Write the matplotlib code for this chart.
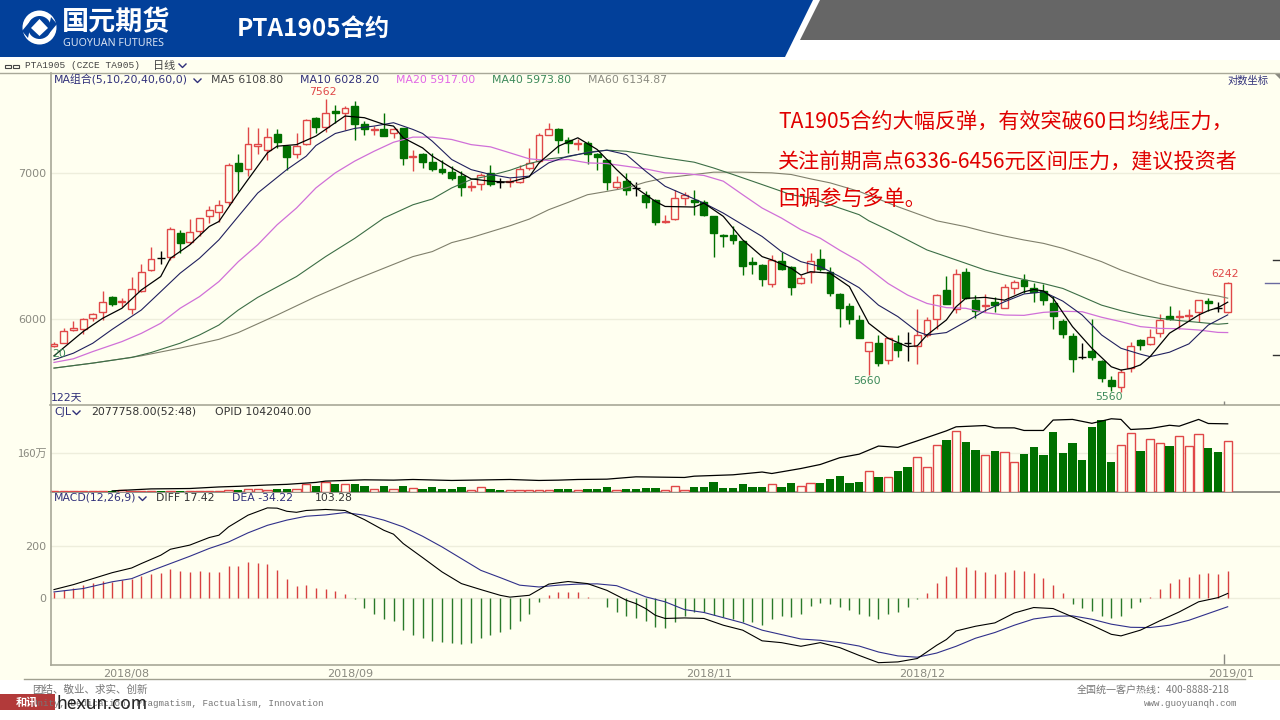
import matplotlib
matplotlib.use("Agg")
import matplotlib.pyplot as plt
from matplotlib.patches import Polygon, Rectangle, Circle

plt.rcParams["font.family"] = ["DejaVu Sans", "Noto Sans CJK SC"]

# daily candles, index 0 is the first of the 122 days
opens = [
    5834, 5855, 5933, 5937, 6006, 6044, 6145, 6108, 6064, 6184,
    6318, 6402, 6405, 6570, 6507, 6581, 6686, 6714, 6785, 7073,
    7028, 7203, 7173, 7290, 7203, 7138, 7218, 7417, 7344, 7467,
    7454, 7506, 7367, 7321, 7331, 7295, 7337, 7118, 7140, 7078,
    7028, 7006, 6975, 6899, 6918, 6999, 6933, 6931, 6931, 7035,
    7086, 7285, 7326, 7247, 7213, 7226, 7140, 7098, 6894, 6940,
    6889, 6840, 6802, 6650, 6667, 6814, 6804, 6790, 6686, 6558,
    6558, 6516, 6375, 6350, 6229, 6380, 6338, 6232, 6306, 6391,
    6304, 6160, 6085, 5996, 5802, 5855, 5747, 5851, 5851, 5835,
    5902, 6000, 6187, 6063, 6304, 6122, 6082, 6112, 6074, 6204,
    6252, 6200, 6180, 6106, 5992, 5896, 5769, 5802, 5743, 5628,
    5590, 5700, 5871, 5849, 5913, 6021, 6013, 6021, 6044, 6116,
    6072, 6044,
]
highs = [
    5861, 5948, 5990, 6006, 6038, 6181, 6149, 6134, 6271, 6360,
    6477, 6448, 6609, 6593, 6667, 6674, 6761, 6800, 7073, 7140,
    7347, 7334, 7339, 7331, 7210, 7295, 7409, 7425, 7562, 7517,
    7509, 7548, 7391, 7352, 7457, 7339, 7339, 7173, 7148, 7148,
    7098, 7048, 7011, 6938, 6999, 7060, 6962, 6962, 7060, 7185,
    7295, 7378, 7339, 7270, 7254, 7236, 7148, 7103, 6975, 6999,
    6931, 6864, 6809, 6698, 6871, 6857, 6871, 6800, 6691, 6562,
    6620, 6523, 6409, 6360, 6420, 6443, 6346, 6286, 6431, 6459,
    6338, 6167, 6106, 6027, 5861, 5902, 5892, 5902, 5923, 6063,
    6017, 6162, 6278, 6329, 6335, 6155, 6162, 6140, 6230, 6256,
    6295, 6234, 6230, 6149, 6000, 5917, 5851, 6002, 5749, 5654,
    5694, 5857, 5879, 5939, 6034, 6084, 6059, 6063, 6122, 6134,
    6112, 6242,
]
lows = [
    5827, 5851, 5929, 5909, 5992, 5996, 6087, 6081, 6034, 6177,
    6316, 6362, 6387, 6431, 6495, 6546, 6639, 6650, 6768, 6864,
    6975, 7140, 7098, 7185, 7023, 7110, 7210, 7295, 7306, 7378,
    7321, 7244, 7280, 7287, 7275, 7262, 7060, 7011, 7035, 7011,
    6987, 6950, 6832, 6864, 6876, 6901, 6889, 6894, 6926, 7023,
    7073, 7280, 7148, 7148, 7173, 7068, 7023, 6876, 6881, 6840,
    6830, 6745, 6627, 6639, 6662, 6768, 6698, 6686, 6405, 6473,
    6495, 6286, 6293, 6214, 6210, 6320, 6155, 6227, 6236, 6316,
    6152, 5954, 5971, 5881, 5660, 5715, 5723, 5764, 5745, 5723,
    5892, 5937, 6097, 6042, 6127, 6006, 6048, 6046, 6070, 6162,
    6169, 6112, 6090, 5939, 5881, 5678, 5753, 5749, 5616, 5566,
    5560, 5678, 5810, 5843, 5892, 5996, 5937, 5992, 5985, 6055,
    6048, 6038,
]
closes = [
    5847, 5927, 5943, 6002, 6032, 6112, 6098, 6119, 6192, 6306,
    6396, 6402, 6597, 6500, 6579, 6674, 6728, 6763, 7055, 7016,
    7213, 7216, 7267, 7228, 7120, 7198, 7401, 7347, 7457, 7457,
    7493, 7367, 7326, 7329, 7277, 7329, 7108, 7125, 7081, 7028,
    7006, 6960, 6896, 6906, 6980, 6921, 6933, 6938, 7028, 7073,
    7287, 7331, 7247, 7223, 7221, 7140, 7115, 6933, 6933, 6871,
    6889, 6785, 6648, 6657, 6816, 6838, 6790, 6693, 6567, 6549,
    6523, 6348, 6362, 6262, 6385, 6329, 6208, 6269, 6380, 6324,
    6167, 6070, 6000, 5881, 5857, 5733, 5884, 5812, 5851, 5902,
    5996, 6153, 6097, 6295, 6134, 6055, 6090, 6088, 6210, 6237,
    6215, 6178, 6125, 6021, 5910, 5753, 5769, 5767, 5643, 5594,
    5674, 5837, 5843, 5888, 5994, 6000, 6019, 6030, 6120, 6101,
    6072, 6232,
]

# moving averages, read at the listed day numbers
ma5_days = [0, 3, 5, 7, 9, 11, 12, 14, 16, 17, 19, 20, 22, 23, 25, 27, 28, 30, 32, 34, 35, 36, 38,
            39, 41, 43, 45, 47, 49, 50, 52, 54, 56, 58, 60, 62, 63, 66, 67, 69, 71, 73, 74, 76, 77, 78, 80, 82, 83,
            84, 86, 88, 89, 90, 92, 93, 94, 96, 98, 100, 101, 102, 103, 105, 107, 109, 110, 111, 112, 113, 114,
            115, 116, 118, 119, 120, 121]
ma5 = [5774, 5923, 6006, 6070, 6188, 6276, 6398, 6489, 6615, 6650, 6852, 6950, 7148, 7198, 7210, 7275, 7326, 7430,
       7417, 7365, 7352, 7262, 7185,
       7123, 7035, 6955, 6938, 6931, 6970, 7073, 7198, 7262, 7173, 7023, 6889, 6792, 6756, 6752, 6780, 6686, 6523,
       6409, 6387, 6331, 6286, 6308, 6298, 6210, 6091,
       5975, 5881, 5830, 5835, 5902, 5996, 6080, 6134, 6140, 6122, 6176, 6191, 6182, 6134, 5954, 5820, 5708, 5688,
       5698, 5719, 5769, 5841, 5913, 5950, 6027, 6055, 6074, 6109]
ma10_days = [0, 2, 4, 6, 9, 11, 13, 15, 17, 19, 21, 24, 26, 27, 29, 31, 33, 35, 37, 38,
             39, 41, 43, 45, 47, 49, 51, 53, 55, 57, 59, 61, 63, 65, 67, 69, 71, 73, 75, 77, 79, 81, 83,
             85, 87, 89, 90, 92, 94, 96, 98, 100, 102, 104, 106, 108, 110, 112, 113, 115, 117, 119, 121]
ma10 = [5750, 5790, 5851, 5937, 6059, 6177, 6298, 6398, 6523, 6686, 6852, 7023, 7123, 7203, 7295, 7334, 7352, 7378,
        7326, 7295,
        7236, 7098, 7023, 6987, 6962, 6975, 7073, 7123, 7148, 7168, 7135, 7011, 6901, 6840, 6780, 6709, 6627, 6546,
        6443, 6375, 6342, 6276, 6203,
        6090, 6017, 5923, 5902, 5917, 5985, 6055, 6112, 6162, 6176, 6116, 6027, 5902, 5820, 5784, 5769, 5796, 5847,
        5964, 6028]
ma20_days = [0, 2, 4, 7, 9, 11, 13, 15, 17, 19, 21, 23, 25, 27, 29, 31, 33, 35, 37, 39,
             41, 43, 45, 47, 49, 51, 53, 55, 57, 59, 61, 63, 65, 67, 69, 71, 73, 75, 77, 79, 81, 83,
             84, 86, 88, 90, 92, 94, 96, 98, 100, 102, 104, 106, 108, 110, 112, 114, 116, 118, 120, 121]
ma20 = [5734, 5756, 5800, 5861, 5912, 5975, 6070, 6145, 6243, 6375, 6489, 6627, 6745, 6889, 6999, 7086, 7160, 7228,
        7267, 7267,
        7249, 7210, 7193, 7148, 7103, 7091, 7098, 7073, 7068, 7048, 7028, 6999, 6994, 6980, 6938, 6840, 6745, 6674,
        6593, 6534, 6452, 6378,
        6329, 6230, 6155, 6101, 6074, 6070, 6042, 6027, 6025, 6044, 6051, 6048, 6013, 5985, 5954, 5943, 5941, 5933,
        5918, 5917]
ma40_days = [0, 4, 8, 10, 13, 15, 17, 19, 21, 25, 28, 31, 34, 37, 39,
             41, 43, 45, 47, 49, 51, 53, 55, 57, 59, 61, 63, 66, 68, 70, 72, 74, 76, 78, 80, 83,
             84, 86, 88, 90, 92, 94, 96, 98, 100, 102, 104, 106, 108, 110, 112, 114, 116, 118, 120, 121]
ma40 = [5700, 5730, 5764, 5794, 5851, 5902, 5964, 6059, 6140, 6276, 6409, 6533, 6674, 6768, 6809,
        6889, 6950, 6980, 7018, 7068, 7103, 7118, 7153, 7168, 7160, 7135, 7110, 7078, 7035, 6987, 6938, 6889, 6840,
        6816, 6768, 6698,
        6655, 6591, 6522, 6454, 6409, 6364, 6319, 6286, 6256, 6230, 6198, 6144, 6090, 6055, 6027, 6006, 5992, 5981,
        5969, 5974]
ma60_days = [0, 4, 9, 13, 17, 19, 23, 27, 31, 34, 37, 39,
             41, 43, 47, 49, 51, 53, 55, 57, 59, 61, 63, 66, 68, 71, 74, 76, 78, 80, 83, 87, 91,
             94, 96, 98, 100, 102, 104, 106, 108, 110, 112, 114, 116, 118, 120, 121]
ma60 = [5700, 5730, 5774, 5821, 5875, 5917, 6027, 6145, 6254, 6331, 6409, 6443,
        6504, 6538, 6620, 6667, 6733, 6785, 6840, 6864, 6889, 6931, 6962, 6987, 7004, 7004, 6999, 6987, 6955, 6926,
        6864, 6754, 6655,
        6614, 6579, 6549, 6522, 6499, 6465, 6420, 6375, 6319, 6274, 6230, 6198, 6169, 6149, 6135]

# volume in units of 10 000 lots
volumes = [
    1, 1, 1, 1, 1, 3, 4, 8, 4, 1,
    1, 1, 4, 1, 3, 1, 1, 4, 8, 7,
    10, 10, 7, 10, 10, 12, 30, 22, 40, 30,
    29, 33, 22, 12, 22, 12, 22, 15, 12, 19,
    12, 12, 17, 8, 17, 10, 7, 7, 7, 7,
    8, 8, 12, 12, 8, 12, 12, 17, 8, 12,
    11, 15, 15, 8, 22, 8, 19, 19, 39, 14,
    15, 33, 17, 19, 29, 17, 36, 21, 37, 34,
    51, 65, 37, 39, 84, 62, 62, 84, 101, 141,
    103, 192, 212, 251, 203, 172, 150, 167, 165, 124,
    154, 183, 150, 248, 160, 199, 130, 265, 296, 121,
    192, 244, 167, 219, 199, 189, 228, 190, 236, 178,
    163, 208,
]
# open interest, same unit, has its own scale
oi_days = [6, 10, 14, 17, 19, 22, 24, 25, 27, 28, 32, 35, 37, 41, 45, 47, 50, 52, 54, 57, 60, 65, 66, 70, 73, 74, 77,
           79, 81, 83, 85, 87, 89, 92, 93, 96, 97, 99, 100, 102, 103, 105, 107, 109, 110, 111, 113, 115, 116, 118,
           119, 121]
open_interest = [1, 4, 4.6, 7, 8, 10, 11, 12, 14, 16, 18, 17.5, 18.5, 17, 18, 18.5, 17, 17.5, 18.5, 19, 22.6, 21.6,
                 23.6, 25.7, 30, 27.7, 35.4, 41.6, 52, 57.5, 70, 68, 78, 93.4, 99.6, 101.6, 98, 98, 94, 94, 110,
                 111, 105, 112, 111, 95.5, 97, 102, 100.6, 111, 104.7, 104.2]

macd_hist = [
    21, 32, 38, 51, 58, 65, 62, 68, 72, 83,
    91, 96, 113, 104, 101, 103, 101, 99, 123, 123,
    138, 136, 131, 106, 72, 46, 51, 38, 35, 26,
    14, -5, -38, -60, -82, -90, -124, -141, -156, -165,
    -169, -173, -178, -173, -153, -144, -131, -118, -88, -60,
    -15, 13, 23, 23, 21, 4, 1, -35, -54, -71,
    -79, -88, -112, -115, -92, -71, -54, -55, -67, -73,
    -83, -92, -92, -105, -83, -71, -73, -60, -32, -19,
    -24, -35, -47, -60, -71, -83, -60, -54, -35, -6,
    17, 59, 83, 119, 119, 106, 101, 91, 101, 106,
    104, 95, 76, 51, 19, -22, -38, -50, -69, -79,
    -71, -38, -15, 4, 36, 59, 71, 79, 90, 94,
    90, 103,
]
diff_days = [0, 2, 4, 6, 8, 9, 11, 12, 14, 16, 17, 18, 20, 22, 23, 24, 25, 26, 28, 30, 32, 34, 35, 36, 38, 40, 42, 44,
             46, 47, 49, 51, 53, 55, 57, 59, 60,
             61, 62, 63, 65, 67, 69, 71, 73, 75, 77, 79, 81, 83, 85, 87, 89, 91, 92, 93, 95, 97, 99, 101, 103, 105,
             107, 109, 110, 112, 114, 116, 118, 120, 121]
macd_diff = [32, 51, 74, 97, 115, 132, 164, 187, 203, 232, 241, 273, 318, 346, 345, 333, 329, 336, 340, 336, 301, 260,
             245, 209, 155, 100, 55, 32, 10, 3, 10, 53, 63, 55, 29, -9, -22,
             -41, -67, -79, -77, -79, -105, -124, -165, -172, -186, -172, -191, -221, -249, -246, -233, -182, -160,
             -127, -109, -96, -58, -37, -41, -73, -105, -140, -146, -124, -88, -54, -15, 1, 17]
dea_days = [0, 3, 6, 8, 10, 12, 14, 16, 18, 20, 22, 24, 26, 28, 30, 32, 34, 36, 38, 40, 42, 44, 46, 48, 50, 52, 54,
            56, 58, 60,
            61, 63, 65, 67, 69, 71, 73, 75, 77, 79, 81, 83, 85, 87, 89, 91, 93, 95, 97, 99, 101, 103, 105, 107, 109,
            111, 113, 115, 117, 119, 121]
macd_dea = [23, 36, 62, 74, 104, 132, 160, 190, 215, 250, 279, 299, 314, 319, 328, 318, 299, 273, 237, 196, 151, 106,
            78, 49, 42, 49, 53, 54, 47, 19,
            4, -15, -45, -56, -76, -96, -124, -141, -158, -163, -172, -185, -208, -223, -228, -212, -186, -155, -133,
            -105, -81, -71, -69, -82, -101, -113, -114, -105, -86, -60, -34]

date_ticks = [7.4, 30.5, 67.5, 89.5, 121.4]
date_labels = ["2018/08", "2018/09", "2018/11", "2018/12", "2019/01"]

BG = "#FFFFF0"
RED = "#E04848"
GREEN = "#007000"
NAVY = "#30307A"
GRAY = "#8A8A80"
GRID = "#EEEEDC"
CJK = ["Noto Sans CJK SC", "DejaVu Sans"]

W, H = 1280, 720
fig = plt.figure(figsize=(W / 100, H / 100), dpi=100, facecolor="white")


def panel_axes(top, bottom):
    # x runs over day numbers: day 0 sits at 54 px and one day is 9.7 px
    ax = fig.add_axes([50.5 / W, 1 - bottom / H, (W - 50.5) / W, (bottom - top) / H], zorder=2)
    ax.set_facecolor("none")
    ax.set_xlim((50.5 - 54) / 9.7, (W - 54) / 9.7)
    for side in ["top", "right"]:
        ax.spines[side].set_visible(False)
    for side in ["left", "bottom"]:
        ax.spines[side].set_color("#A8A898")
        ax.spines[side].set_linewidth(1.2)
    ax.tick_params(axis="y", length=0, labelcolor=GRAY, labelsize=8, pad=3)
    ax.tick_params(axis="x", length=0)
    ax.set_xticks([])
    ax.grid(axis="y", color=GRID, lw=1)
    ax.set_axisbelow(True)
    return ax


# background layer, in pixels
bg = fig.add_axes([0, 0, 1, 1], zorder=0)
bg.set_xlim(0, W)
bg.set_ylim(H, 0)
bg.axis("off")
bg.add_patch(Rectangle((0, 60), W, 620, color=BG, lw=0))
bg.add_patch(Polygon([(0, 0), (813, 0), (785, 57), (0, 57)], color="#02409A", lw=0))
bg.add_patch(Polygon([(820, 0), (W, 0), (W, 40), (800, 40)], color="#666666", lw=0))
bg.plot([0, W], [72.5, 72.5], color="#A8A898", lw=1)
bg.plot([24, 1245], [679, 679], color="#A0A090", lw=1)
bg.plot([50, W], [405, 405], color="#A8A898", lw=1.2)
bg.plot([1265, W], [283, 283], color="#6A6AA0", lw=1)
bg.plot([1273, W], [260, 260], color="#333333", lw=1)
bg.plot([1273, W], [355, 355], color="#333333", lw=1)
bg.add_patch(Polygon([(1274, 73), (W, 73), (W, 79)], color="#888880", lw=0))

# logo
bg.add_patch(Circle((39.5, 27.5), 17, color="white", lw=0))
bg.add_patch(Circle((39.5, 27.5), 11.5, color="#02409A", lw=0))
bg.add_patch(Polygon([(39.5, 19), (48, 28), (39.5, 36), (31, 28)], color="white", lw=0))
bg.add_patch(Polygon([(22, 31), (32, 19), (28, 38)], color="#02409A", lw=0))
bg.add_patch(Polygon([(57, 24), (47, 36), (51, 17)], color="#02409A", lw=0))

# price panel on a log scale
ax_price = panel_axes(73, 405)
ax_price.set_yscale("log")
ax_price.set_ylim(5483, 7774)
ax_price.set_yticks([6000, 7000], ["6000", "7000"])
ax_price.minorticks_off()
ax_price.tick_params(axis="y", which="minor", length=0, labelleft=False)
ax_price.spines["bottom"].set_visible(False)

for i in range(len(opens)):
    o, h, l, c = opens[i], highs[i], lows[i], closes[i]
    if c > o:
        edge, face = RED, BG
    elif c < o:
        edge, face = GREEN, GREEN
    else:
        edge, face = "black", "black"
    ax_price.vlines(i, l, h, color=edge, lw=1, zorder=3)
    if c != o:
        ax_price.bar(i, abs(c - o), bottom=min(o, c), width=0.72, facecolor=face, edgecolor=edge, lw=1, zorder=4)
    else:
        ax_price.hlines(c, i - 0.4, i + 0.4, color=edge, lw=1, zorder=4)

ax_price.plot(ma60_days, ma60, color="#80806C", lw=0.8, zorder=5)
ax_price.plot(ma40_days, ma40, color="#3C6E46", lw=0.8, zorder=5)
ax_price.plot(ma20_days, ma20, color="#D070D8", lw=0.9, zorder=5)
ax_price.plot(ma10_days, ma10, color="#20205E", lw=0.8, zorder=5)
ax_price.plot(ma5_days, ma5, color="black", lw=0.9, zorder=5)
ax_price.vlines(120.6, 5483, 5505, color="#888880", lw=1)

# volume panel
ax_vol = panel_axes(405, 491.5)
ax_vol.set_ylim(0, 358)
ax_vol.set_yticks([160], ["160万"], family=CJK)
ax_vol.spines["bottom"].set_color("#808078")
for i, v in enumerate(volumes):
    if closes[i] > opens[i]:
        ax_vol.bar(i, v, width=0.85, facecolor=BG, edgecolor=RED, lw=1, zorder=3)
    else:
        ax_vol.bar(i, v, width=0.85, color=GREEN, lw=0, zorder=3)

ax_oi = fig.add_axes(ax_vol.get_position(), zorder=3)
ax_oi.set_facecolor("none")
ax_oi.axis("off")
ax_oi.set_xlim(ax_vol.get_xlim())
ax_oi.set_ylim(0, 133.2)
ax_oi.plot(oi_days, open_interest, color="black", lw=0.9)

# MACD panel
ax_macd = panel_axes(491.5, 664.5)
ax_macd.set_ylim(-256, 409)
ax_macd.set_yticks([0, 200], ["0", "200"])
ax_macd.spines["bottom"].set_color("#A8A898")
for i, m in enumerate(macd_hist):
    ax_macd.vlines(i, 0, m, color="#D84040" if m > 0 else "#2A7A2A", lw=1, zorder=3)
ax_macd.plot(dea_days, macd_dea, color="#30308A", lw=0.8, zorder=4)
ax_macd.plot(diff_days, macd_diff, color="black", lw=0.8, zorder=4)
ax_macd.vlines(120.6, -256, -215, color="#888880", lw=1)
ax_macd.set_xticks(date_ticks, date_labels)
ax_macd.tick_params(axis="x", labelcolor=GRAY, labelsize=8, pad=3)

# text layer, in pixels
top = fig.add_axes([0, 0, 1, 1], zorder=6)
top.set_xlim(0, W)
top.set_ylim(H, 0)
top.axis("off")
top.patch.set_alpha(0)


def label(x, y, s, color="#444444", size=7.8, **kw):
    kw.setdefault("va", "center")
    top.text(x, y, s, color=color, fontsize=size, **kw)


def chevron(x, y):
    top.plot([x, x + 3.5, x + 7], [y - 2, y + 1.5, y - 2], color=NAVY, lw=1)


label(62, 22, "国元期货", "white", 19.5, family=CJK, weight="bold")
label(63, 44, "GUOYUAN FUTURES", "#D8E2F2", 7.7, family=["Noto Sans"])
label(237, 29, "PTA1905合约", "white", 17.5, family=CJK, weight="bold")

label(25, 66, "PTA1905 (CZCE TA905)", "#444444", 6.8, family=["Liberation Mono"])
label(153, 66, "日线", "#444444", 8, family=CJK)
chevron(179, 66)
top.add_patch(Rectangle((5, 64.5), 6, 3, fill=False, ec="#444444", lw=0.8))
top.add_patch(Rectangle((13, 64.5), 6, 3, fill=False, ec="#444444", lw=0.8))

label(54, 80, "MA组合(5,10,20,40,60,0)", NAVY)
chevron(194, 81)
label(211, 80, "MA5 6108.80", "#444444")
label(300, 80, "MA10 6028.20", NAVY)
label(396, 80, "MA20 5917.00", "#E266E6")
label(492, 80, "MA40 5973.80", "#3C8A5A")
label(588, 80, "MA60 6134.87", "#8A8A80")
label(1228, 81, "对数坐标", NAVY, 7.4, family=CJK)

label(323, 92, "7562", RED, ha="center")
label(867, 381, "5660", "#3C8A5A", ha="center")
label(1109, 397, "5560", "#3C8A5A", ha="center")
label(1225, 274, "6242", RED, ha="center")
label(52, 354, "20", "#3C8A5A")
label(51, 397, "122天", NAVY)

label(54, 412, "CJL", NAVY)
chevron(73, 413)
label(91, 412, "2077758.00(52:48)", "#333333")
label(215, 412, "OPID 1042040.00", "#333333")

label(54, 498, "MACD(12,26,9)", NAVY)
chevron(139, 499)
label(156, 498, "DIFF 17.42", "#333333")
label(232, 498, "DEA -34.22", NAVY)
label(315, 498, "103.28", "#333333")

label(778, 123, "TA1905合约大幅反弹，有效突破60日均线压力，", "#E00000", 15.2, family=CJK)
label(778, 162, "关注前期高点6336-6456元区间压力，建议投资者", "#E00000", 15.2, family=CJK)
label(778, 199, "回调参与多单。", "#E00000", 15.2, family=CJK)

# footer
label(32, 690, "团结、敬业、求实、创新", "#777777", 7.6, family=CJK)
label(32, 704, "Unity, Dedication, Pragmatism, Factualism, Innovation", "#777777", 6.6, family=["Liberation Mono"])
label(1077, 690, "全国统一客户热线：400-8888-218", "#777777", 7.2, family=CJK)
label(1237, 704, "www.guoyuanqh.com", "#777777", 6.6, family=["Liberation Mono"], ha="right")
top.add_patch(Rectangle((0, 694), 55, 16, color="#B23A3A", lw=0))
label(27, 702, "和讯", "white", 8, family=CJK, ha="center", weight="bold")
label(57, 704, "hexun.com", "#222222", 12.5, family=["Noto Sans"], weight="bold")

fig.savefig("out.png", dpi=100, facecolor="white")
